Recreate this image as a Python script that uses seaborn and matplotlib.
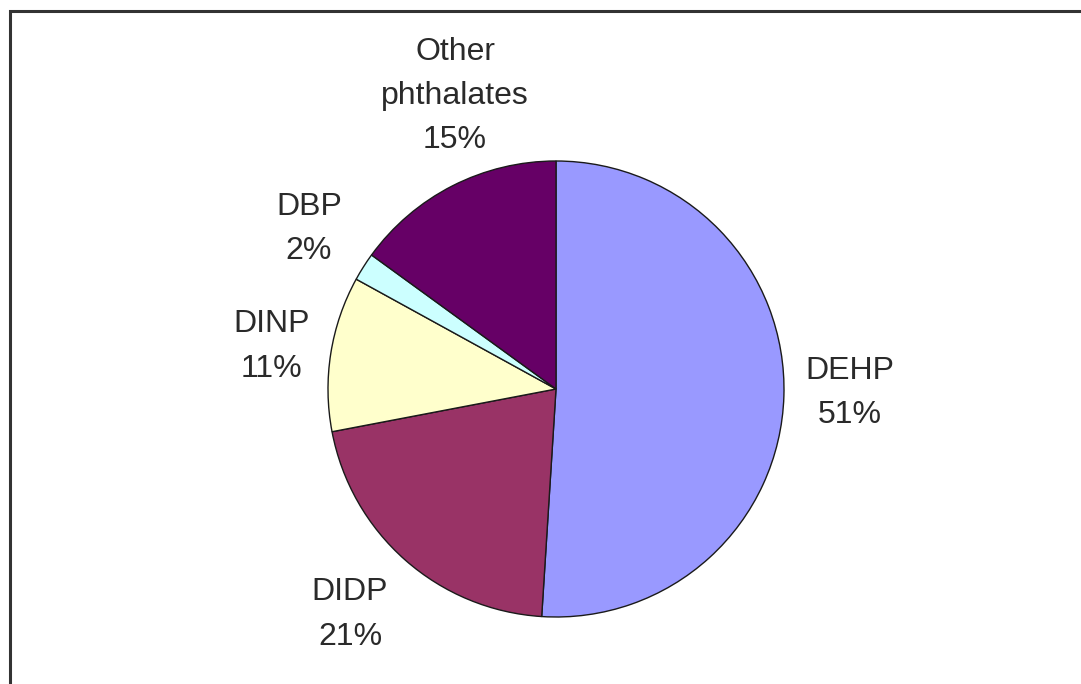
import matplotlib
matplotlib.use("Agg")
import matplotlib.pyplot as plt
import seaborn as sns
import numpy as np
from matplotlib.patches import Rectangle

# Data
categories = ["DEHP", "DIDP", "DINP", "DBP", "Other\nphthalates"]
shares = [51, 21, 11, 2, 15]
hex_colors = ["#9999FF", "#993366", "#FFFFCC", "#CCFFFF", "#660066"]

sns.set_theme(style="white")
plt.rcParams['font.family'] = ['Liberation Sans', 'DejaVu Sans']
palette = sns.color_palette(hex_colors)

W, H = 1081, 684
fig = plt.figure(figsize=(W / 100, H / 100), dpi=100)
fig.patch.set_facecolor("white")
ax = fig.add_axes([0, 0, 1, 1])

cx, cy, r = 556, H - 389, 228
wedges, _ = ax.pie(shares, colors=palette, startangle=90, counterclock=False,
                   center=(cx, cy), radius=r,
                   wedgeprops=dict(edgecolor="#1a1a1a", linewidth=1.0))
ax.set_xlim(0, W)
ax.set_ylim(0, H)
ax.set_aspect("auto")
ax.axis("off")

# label placement (distance in radii, angle tweak in degrees)
label_dist = [1.29, 1.34, 1.26, 1.29, 1.36]
angle_tweak = [1, -1, 0.5, -0.5, -8]
for w, cat, val, d, t in zip(wedges, categories, shares, label_dist, angle_tweak):
    ang = np.deg2rad((w.theta1 + w.theta2) / 2 + t)
    x = cx + d * r * np.cos(ang)
    y = cy + d * r * np.sin(ang)
    ax.text(x, y, f"{cat}\n{val}%", ha="center", va="center",
            fontsize=23, color="#2a2a2a", linespacing=1.62)

# outer frame (right and bottom edges fall outside the image)
fig.patches.append(Rectangle((10 / W, -0.05), 1.2, (H - 10.5) / H + 0.05,
                             transform=fig.transFigure, fill=False,
                             edgecolor="#333333", linewidth=2.2))

fig.savefig("out.png", dpi=100, facecolor="white")
